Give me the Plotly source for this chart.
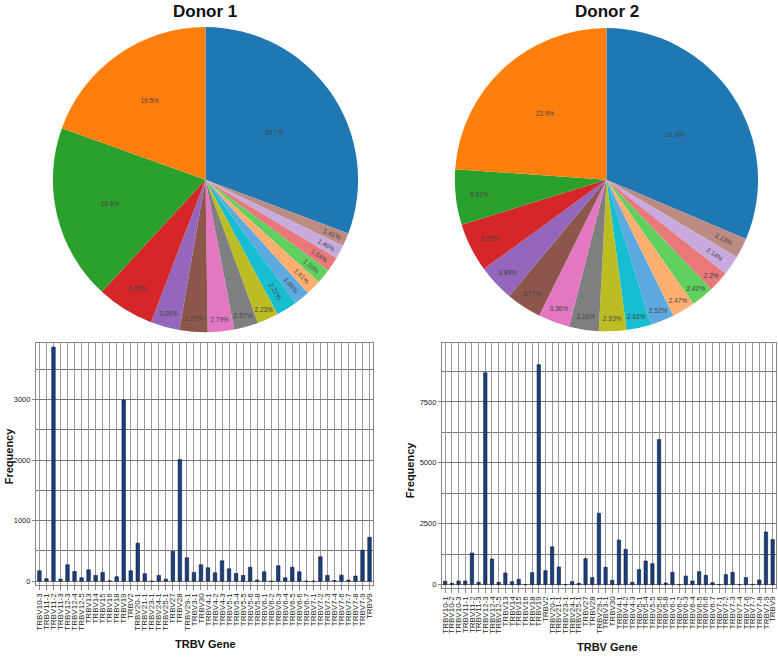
import plotly.graph_objects as go

W, H = 778, 657

# ---------------- data ----------------
pie_colors = ["#1f77b4", "#bc8c82", "#c8aadf", "#e8787a", "#60d060", "#ffb070",
              "#5da9e0", "#17becf", "#bcbd22", "#7f7f7f", "#e377c2", "#8c564b",
              "#9467bd", "#d62728", "#2ca02c", "#ff7f0e"]
pie_slices = ["S1", "S16", "S15", "S14", "S13", "S12", "S11", "S10", "S9", "S8",
              "S7", "S6", "S5", "S4", "S3", "S2"]
donor1_pie = [30.7, 1.41, 1.46, 1.54, 1.55, 1.61, 1.66, 2.22, 2.23, 2.57,
              2.79, 2.97, 3.06, 6.06, 18.6, 19.5]
donor2_pie = [31.4, 2.13, 2.14, 2.2, 2.42, 2.47, 2.52, 2.62, 2.93, 3.16,
              3.36, 3.77, 3.89, 5.23, 5.91, 23.9]

donor1_genes = ["TRBV10-3", "TRBV11-1", "TRBV11-2", "TRBV11-3", "TRBV12-3", "TRBV12-4",
                "TRBV12-5", "TRBV13", "TRBV14", "TRBV15", "TRBV16", "TRBV18", "TRBV19",
                "TRBV2", "TRBV20-1", "TRBV21-1", "TRBV23-1", "TRBV24-1", "TRBV25-1",
                "TRBV27", "TRBV28", "TRBV29-1", "TRBV3-1", "TRBV30", "TRBV4-1",
                "TRBV4-2", "TRBV4-3", "TRBV5-1", "TRBV5-4", "TRBV5-5", "TRBV5-6",
                "TRBV5-8", "TRBV6-1", "TRBV6-2", "TRBV6-3", "TRBV6-4", "TRBV6-5",
                "TRBV6-6", "TRBV6-7", "TRBV7-1", "TRBV7-2", "TRBV7-3", "TRBV7-4",
                "TRBV7-6", "TRBV7-7", "TRBV7-8", "TRBV7-9", "TRBV9"]
donor1_freq = [170, 40, 3870, 33, 270, 160, 55, 187, 94, 143, 5, 72, 2995,
               171, 628, 121, 0, 94, 33, 496, 2010, 386, 143, 270, 220,
               138, 336, 204, 127, 94, 231, 17, 154, 0, 253, 55, 231,
               154, 0, 0, 402, 94, 11, 99, 17, 83, 512, 725]

donor2_genes = ["TRBV10-1", "TRBV10-2", "TRBV10-3", "TRBV11-1", "TRBV11-2", "TRBV11-3",
                "TRBV12-3", "TRBV12-4", "TRBV12-5", "TRBV13", "TRBV14", "TRBV15",
                "TRBV16", "TRBV18", "TRBV19", "TRBV2", "TRBV20-1", "TRBV21-1",
                "TRBV23-1", "TRBV24-1", "TRBV25-1", "TRBV27", "TRBV28", "TRBV29-1",
                "TRBV3-1", "TRBV30", "TRBV4-1", "TRBV4-2", "TRBV4-3", "TRBV5-1",
                "TRBV5-4", "TRBV5-5", "TRBV5-6", "TRBV5-8", "TRBV6-1", "TRBV6-2",
                "TRBV6-3", "TRBV6-4", "TRBV6-5", "TRBV6-6", "TRBV6-7", "TRBV7-1",
                "TRBV7-2", "TRBV7-3", "TRBV7-4", "TRBV7-6", "TRBV7-7", "TRBV7-8",
                "TRBV7-9", "TRBV9"]
donor2_freq = [137, 55, 150, 150, 1298, 96, 8700, 1052, 96, 478, 123, 219,
               0, 492, 9030, 574, 1553, 724, 0, 123, 55, 1065, 287, 2930,
               710, 178, 1830, 1448, 96, 615, 970, 860, 5960, 68, 505, 0,
               355, 150, 533, 382, 82, 0, 410, 505, 0, 287, 14, 191,
               2160, 1850]

# ---------------- figure ----------------
def px_x(p):
    return p / W

def px_y(p):
    return 1 - p / H

FONT = "Liberation Sans, Arial, sans-serif"
fig = go.Figure()

for vals, dom in [(donor1_pie, [52, 358]), (donor2_pie, [455, 759])]:
    fig.add_trace(go.Pie(
        labels=pie_slices, values=vals, sort=False, direction="clockwise",
        rotation=0, marker=dict(colors=pie_colors, line=dict(width=0)),
        textinfo="percent", textposition="inside", insidetextorientation="auto",
        textfont=dict(size=6.5, color="#444444", family=FONT),
        showlegend=False, hoverinfo="label+percent",
        domain=dict(x=[px_x(dom[0]), px_x(dom[1])], y=[px_y(333), px_y(27)]),
    ))

bar_color = "#1b3f7d"
fig.add_trace(go.Bar(x=donor1_genes, y=donor1_freq, xaxis="x", yaxis="y",
                     marker=dict(color=bar_color, line=dict(color="#0a1a33", width=0.6)),
                     width=0.5, showlegend=False))
fig.add_trace(go.Bar(x=donor2_genes, y=donor2_freq, xaxis="x2", yaxis="y2",
                     marker=dict(color=bar_color, line=dict(color="#0a1a33", width=0.6)),
                     width=0.5, showlegend=False))

common_x = dict(type="category", tickangle=-90, showgrid=True, gridcolor="#999999",
                gridwidth=1, showline=True, mirror=True, linecolor="#888888",
                ticks="outside", ticklen=4, tickcolor="#888888",
                tickfont=dict(size=8, color="#222222", family=FONT), zeroline=False)
common_y = dict(showgrid=True, gridcolor="#7a7a7a", gridwidth=1, showline=True,
                mirror=True, linecolor="#888888", ticks="outside", ticklen=3,
                tickcolor="#888888", zeroline=False,
                tickfont=dict(size=7.5, color="#222222", family=FONT))

fig.update_layout(
    width=W, height=H, margin=dict(l=0, r=0, t=0, b=0),
    paper_bgcolor="white", plot_bgcolor="white",
    font=dict(family=FONT),
    bargap=0.5,
    xaxis=dict(domain=[px_x(35), px_x(373)], anchor="y", **common_x,
               tickmode="array", tickvals=donor1_genes, ticktext=donor1_genes,
               range=[-0.5, len(donor1_genes) - 0.5]),
    yaxis=dict(domain=[px_y(586), px_y(344)], anchor="x", **common_y,
               range=[-66, 3930], tickvals=[0, 1000, 2000, 3000],
               minor=dict(dtick=500, tick0=0, showgrid=True, gridcolor="#7a7a7a", ticks="")),
    xaxis2=dict(domain=[px_x(442), px_x(777)], anchor="y2", **common_x,
                tickmode="array", tickvals=donor2_genes, ticktext=donor2_genes,
                range=[-0.5, len(donor2_genes) - 0.5]),
    yaxis2=dict(domain=[px_y(589), px_y(344)], anchor="x2", **common_y,
                range=[-143, 9900], tickvals=[0, 2500, 5000, 7500],
                minor=dict(dtick=1250, tick0=0, showgrid=True, gridcolor="#7a7a7a", ticks="")),
)

annots = [
    dict(text="<b>Donor 1</b>", x=205, y=12, size=17),
    dict(text="<b>Donor 2</b>", x=608, y=12, size=17),
    dict(text="<b>TRBV Gene</b>", x=205, y=645, size=11),
    dict(text="<b>TRBV Gene</b>", x=608, y=648, size=11),
]
for a in annots:
    fig.add_annotation(text=a["text"], x=px_x(a["x"]), y=px_y(a["y"]), xref="paper",
                       yref="paper", showarrow=False, xanchor="center", yanchor="middle",
                       font=dict(size=a["size"], color="#111111", family=FONT))
for (x, y) in [(8, 456), (410, 470)]:
    fig.add_annotation(text="<b>Frequency</b>", x=px_x(x), y=px_y(y), xref="paper",
                       yref="paper", showarrow=False, textangle=-90, xanchor="center",
                       yanchor="middle", font=dict(size=11, color="#111111", family=FONT))

fig.write_html("out.html", config={"displayModeBar": False},
               post_script="document.body.style.margin='0px';document.body.style.overflow='hidden';")
